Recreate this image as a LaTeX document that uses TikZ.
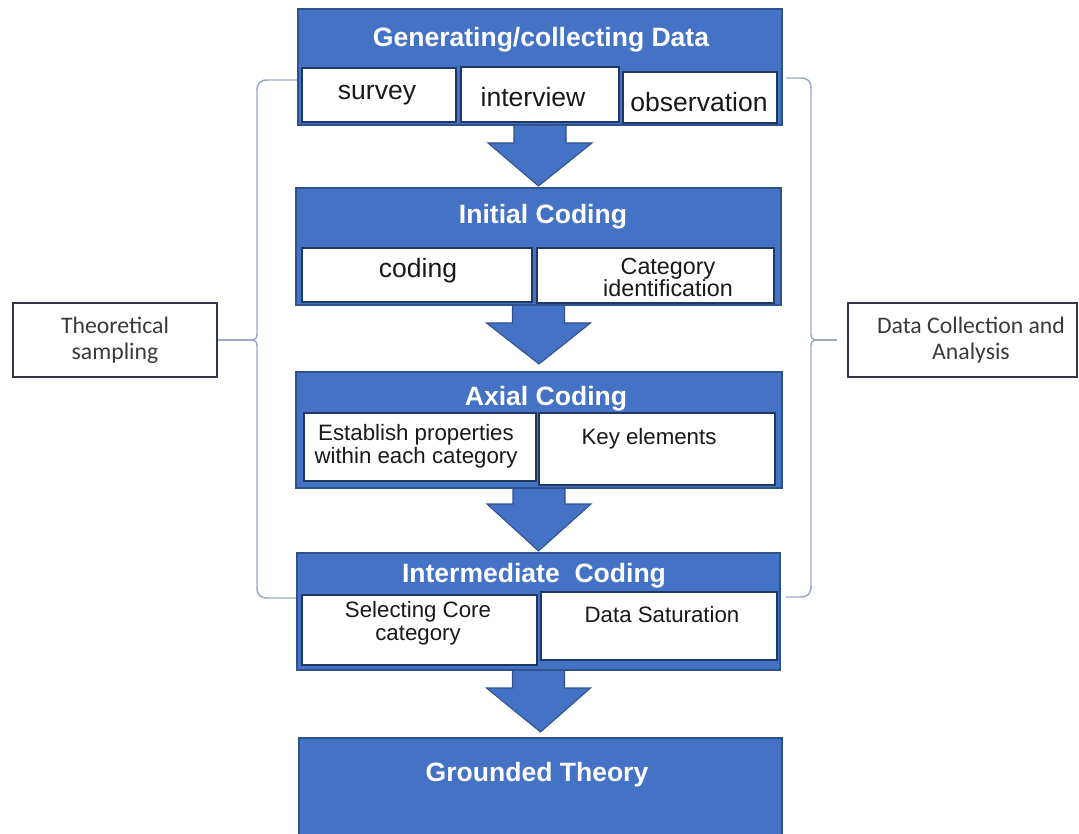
\documentclass[tikz,border=0pt]{standalone}
\usepackage{fontspec}
\setmainfont{Liberation Sans}
\newfontfamily\sidefont{Carlito}
\usetikzlibrary{calc,fit}
\definecolor{boxblue}{HTML}{4472C4}
\definecolor{boxedge}{HTML}{2F528F}
\definecolor{navy}{HTML}{1F3864}
\definecolor{bracec}{HTML}{9AA8C8}
\definecolor{sidetext}{HTML}{3A3A3A}
\definecolor{sideedge}{HTML}{33364A}
\begin{document}
\begin{tikzpicture}[x=0.75pt,y=-0.75pt,
  bluebox/.style={draw=boxedge, line width=1.5pt, fill=boxblue, inner sep=0pt},
  whitebox/.style={draw=navy, line width=1.5pt, fill=white, inner sep=0pt},
  sidebox/.style={draw=sideedge, line width=1.4pt, fill=white, inner sep=0pt},
  titletext/.style={text=white, font=\fontsize{19.9}{24}\selectfont\bfseries, inner sep=0pt},
  bigtext/.style={text=black!90, font=\fontsize{19.9}{24}\selectfont, inner sep=0pt},
  smalltext/.style={text=black!90, font=\fontsize{16.7}{17.2}\selectfont, align=center, inner sep=0pt},
  sidelabel/.style={text=sidetext, font=\sidefont\fontsize{17.8}{19.5}\selectfont, align=center, inner sep=0pt},
  bigarrow/.style={fill=boxblue, draw=boxedge, line width=0.8pt, line join=miter},
  brace/.style={draw=bracec, line width=1.1pt}]
\useasboundingbox (0,0) rectangle (1079,834);
\clip (0,0) rectangle (1079,834);
\fill[white] (0,0) rectangle (1079,834);

% braces
\draw[brace] (299,80) -- (268,80) .. controls (260,80) and (257,83) .. (257,91) -- (257,334)
  .. controls (257,338) and (255,340) .. (253,340) .. controls (255,340) and (257,342) .. (257,346)
  -- (257,587) .. controls (257,595) and (260,598) .. (268,598) -- (298,598);
\draw[brace] (786,78) -- (800,78) .. controls (808,78) and (811,81) .. (811,89) -- (811,334)
  .. controls (811,338) and (813,340) .. (815,340) .. controls (813,340) and (811,342) .. (811,346)
  -- (811,586) .. controls (811,594) and (808,597) .. (800,597) -- (786,597);
\coordinate (lc) at (253,340);
\coordinate (rc) at (815,340);
\coordinate (rce) at (837,340);

% main boxes
\node[bluebox, fit={(298,9)(782,125)}] (b1) {};
\node[whitebox, fit={(302,68)(456,122)}] (s1a) {};
\node[whitebox, fit={(461,67)(619,122)}] (s1b) {};
\node[whitebox, fit={(623,72)(777,123)}] (s1c) {};

\node[bluebox, fit={(296,188)(781,305)}] (b2) {};
\node[whitebox, fit={(302,248)(532,302)}] (s2a) {};
\node[whitebox, fit={(537,248)(774,303)}] (s2b) {};

\node[bluebox, fit={(296,372)(782,488)}] (b3) {};
\node[whitebox, fit={(304,413)(536,481)}] (s3a) {};
\node[whitebox, fit={(539,413)(775,485)}] (s3b) {};

\node[bluebox, fit={(297,553)(780,670)}] (b4) {};
\node[whitebox, fit={(302,595)(537,665)}] (s4a) {};
\node[whitebox, fit={(541,592)(777,660)}] (s4b) {};

\node[bluebox, fit={(299,738)(782,845)}] (b5) {};

% side boxes
\node[sidebox, fit={(13,303)(217,377)}] (ts) {};
\node[sidebox, fit={(848,303)(1077,377)}] (dc) {};

% texts
\node[titletext] (t1) at (541,40) {Generating/collecting Data};
\node[bigtext] (x1a) at (377,95) {survey};
\node[bigtext] (x1b) at (533,97) {interview};
\node[bigtext] (x1c) at (699,102) {observation};

\node[titletext] (t2) at (543,217) {Initial Coding};
\node[bigtext] (x2a) at (418,271) {coding};
\node[smalltext, font=\fontsize{17.5}{16.5}\selectfont] (x2b) at (668,277) {Category\\identification};

\node[titletext] (t3) at (546,399) {Axial Coding};
\node[smalltext] (x3a) at (416,446) {Establish properties\\within each category};
\node[smalltext] (x3b) at (649,439) {Key elements};

\node[titletext] (t4) at (534,576) {Intermediate\ \ Coding};
\node[smalltext] (x4a) at (418,623) {Selecting Core\\category};
\node[smalltext] (x4b) at (662,615) {Data Saturation};

\node[titletext] (t5) at (537,775) {Grounded Theory};

\node[sidelabel] (xts) at (115,340) {Theoretical\\sampling};
\node[sidelabel] (xdc) at (971,340) {Data Collection and\\Analysis};

% side connectors
\draw[brace] (ts.east) -- (lc);
\draw[brace] (rc) -- (rce);

% big arrows
\draw[bigarrow] ($(b1.south)+(-26,0)$) -- ($(b1.south)+(-26,17)$) -- ($(b1.south)+(-52,17)$)
  -- ($(b2.north)+(0,-1)$) -- ($(b1.south)+(52,17)$) -- ($(b1.south)+(26,17)$) -- ($(b1.south)+(26,0)$);
\draw[bigarrow] ($(b2.south)+(-26,0)$) -- ($(b2.south)+(-26,17)$) -- ($(b2.south)+(-52,17)$)
  -- ($(b3.north)+(0,-7)$) -- ($(b2.south)+(52,17)$) -- ($(b2.south)+(26,17)$) -- ($(b2.south)+(26,0)$);
\draw[bigarrow] ($(b3.south)+(-26,0)$) -- ($(b3.south)+(-26,15)$) -- ($(b3.south)+(-52,15)$)
  -- ($(b4.north)+(0,-1)$) -- ($(b3.south)+(52,15)$) -- ($(b3.south)+(26,15)$) -- ($(b3.south)+(26,0)$);
\draw[bigarrow] ($(b4.south)+(-26,0)$) -- ($(b4.south)+(-26,17)$) -- ($(b4.south)+(-52,17)$)
  -- ($(b5.north)+(0,-5)$) -- ($(b4.south)+(52,17)$) -- ($(b4.south)+(26,17)$) -- ($(b4.south)+(26,0)$);
\end{tikzpicture}
\end{document}
